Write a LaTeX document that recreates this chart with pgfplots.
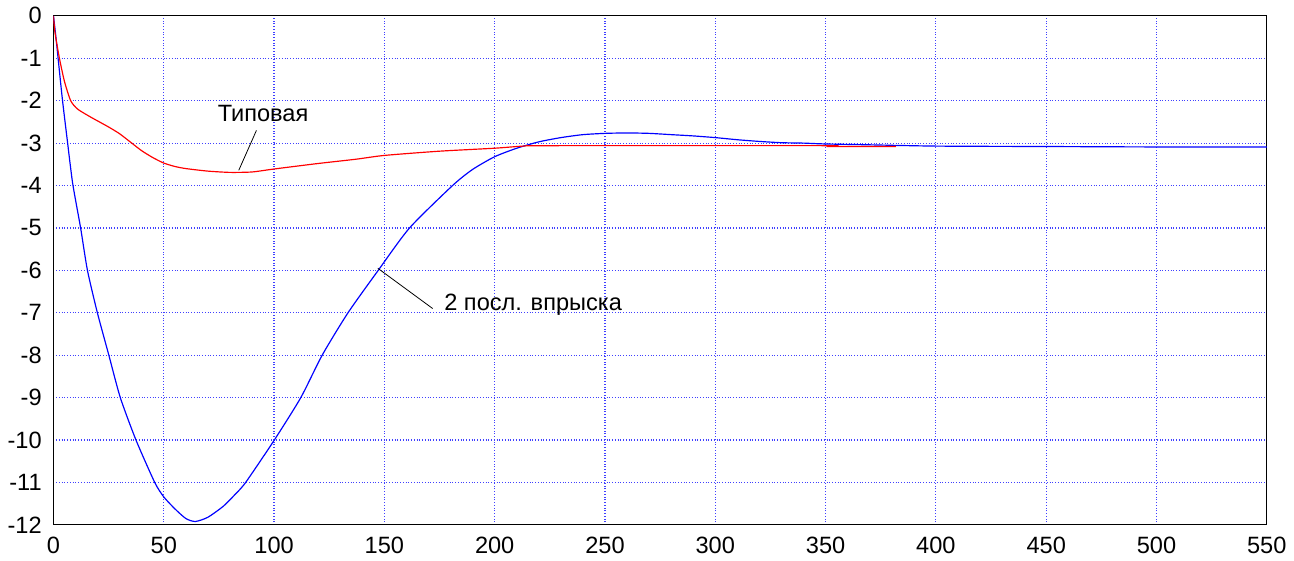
\documentclass[border=0pt]{standalone}
\usepackage{fontspec}
\setmainfont{Liberation Sans}
\usepackage{pgfplots}
\pgfplotsset{compat=1.18}
\begin{document}
\fontsize{11.5}{13}\selectfont
\begin{tikzpicture}
\begin{axis}[
  scale only axis,
  width=615bp, height=258bp,
  xmin=0, xmax=550, ymin=-12, ymax=0,
  xtick distance=50, ytick distance=1,
  major tick length=0pt,
  grid=major,
  major grid style={blue!75, densely dotted, line width=0.6pt},
  axis line style={black, line width=0.6pt},
  tick label style={font=\fontsize{12}{13}\selectfont},
  /pgf/number format/assume math mode=true,
  xticklabel style={yshift=-2pt},
  yticklabel style={xshift=-2pt},
  clip=true,
]
\addplot[blue, line width=0.6pt, smooth, tension=0.4] coordinates {
(0,0) (1,-0.45) (2,-0.95) (4,-1.95) (6.3,-2.95) (8.7,-3.95) (12.3,-5) (15.4,-6)
(19.9,-7) (25.1,-8) (30.3,-9) (37.4,-10) (45.9,-11) (50,-11.34) (55,-11.62)
(60,-11.85) (64.3,-11.92) (70,-11.82) (77,-11.56) (82,-11.3) (87.1,-11)
(100.1,-10) (112.1,-9) (121.8,-8) (133.5,-7) (147.2,-6) (161.4,-5) (180.9,-4)
(190,-3.62) (200,-3.32) (210,-3.12) (220,-2.97) (230,-2.87) (240,-2.8)
(250,-2.77) (260,-2.76) (270,-2.77) (280,-2.8) (290,-2.83) (300,-2.87)
(310,-2.92) (320,-2.96) (330,-2.99) (340,-3.0) (350,-3.02) (370,-3.04)
(400,-3.07) (450,-3.08) (500,-3.09) (550,-3.09)
};
\addplot[red, line width=0.6pt, smooth, tension=0.4] coordinates {
(0,0) (0.7,-0.4) (2.7,-1) (5,-1.55) (7.8,-2) (11,-2.2) (17,-2.39) (25,-2.62)
(30,-2.78) (35,-2.98) (40,-3.18) (45,-3.34) (50,-3.47) (55,-3.55) (60,-3.6)
(70,-3.66) (80,-3.69) (90,-3.68) (100,-3.61) (120,-3.48) (137,-3.38)
(150,-3.29) (175,-3.19) (200,-3.12) (213,-3.07) (225,-3.06) (350,-3.06)
(351,-3.08) (382,-3.08)
};
\draw[black, line width=0.4pt] (axis cs:92,-2.70) -- (axis cs:84,-3.64);
\node[font=\fontsize{12}{13}\selectfont] at (axis cs:95,-2.30) {Типовая};
\draw[black, line width=0.4pt] (axis cs:147,-5.95) -- (axis cs:171.9,-6.9);
\node[font=\fontsize{12}{13}\selectfont, anchor=west, inner sep=0pt] at (axis cs:177,-6.81) {2 посл. впрыска};
\end{axis}
\end{tikzpicture}
\end{document}
